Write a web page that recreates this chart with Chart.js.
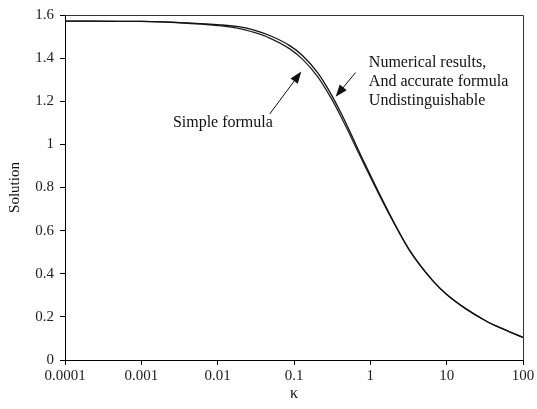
<!DOCTYPE html>
<html>
<head>
<meta charset="utf-8">
<script src="https://cdn.jsdelivr.net/npm/chart.js@4.4.1/dist/chart.umd.min.js"></script>
<style>
  html, body { margin: 0; padding: 0; background: #fff; }
  #wrap { width: 537px; height: 409px; position: relative; }
</style>
</head>
<body>
<div id="wrap"><canvas id="myChart"></canvas></div>
<script>
// values
const kappa     = [0.0001, 0.001, 0.0032, 0.01, 0.0195, 0.03, 0.048, 0.088, 0.131, 0.206, 0.308, 0.416, 0.508, 0.84, 1.69, 3.26, 6.56, 9.84, 17.9, 32.8, 49, 100];
const numerical = [1.572, 1.570, 1.565, 1.555, 1.545, 1.530, 1.505, 1.458, 1.410, 1.330, 1.231, 1.143, 1.079, 0.913, 0.694, 0.510, 0.368, 0.306, 0.237, 0.181, 0.151, 0.105];
const simple    = [1.572, 1.570, 1.564, 1.551, 1.537, 1.519, 1.493, 1.443, 1.393, 1.312, 1.213, 1.126, 1.064, 0.903, 0.689, 0.508, 0.368, 0.306, 0.237, 0.181, 0.151, 0.105];

const xTicks = [0.0001, 0.001, 0.01, 0.1, 1, 10, 100];
const xTickLabels = ['0.0001', '0.001', '0.01', '0.1', '1', '10', '100'];
const yTicks = [0, 0.2, 0.4, 0.6, 0.8, 1, 1.2, 1.4, 1.6];

// annotation anchors, in data units
const simpleNote = { text: 'Simple formula', x: 0.00259, y: 1.102 };
const simpleArrow = { from: [0.0481, 1.141], to: [0.1247, 1.338] };
const numNote = { lines: ['Numerical results,', 'And accurate formula', 'Undistinguishable'], x: 0.956, y: 1.379 };
const numArrow = { from: [0.640, 1.333], to: [0.351, 1.221] };

const serif = "'Liberation Serif', 'Times New Roman', serif";

const data = {
  datasets: [{
    label: 'Numerical results',
    data: kappa.map((k, i) => ({ x: k, y: numerical[i] })),
    borderColor: '#111',
    borderWidth: 1.3,
    pointRadius: 0,
    cubicInterpolationMode: 'monotone',
    fill: false
  }, {
    label: 'Simple formula',
    data: kappa.map((k, i) => ({ x: k, y: simple[i] })),
    borderColor: '#222',
    borderWidth: 1.3,
    pointRadius: 0,
    cubicInterpolationMode: 'monotone',
    fill: false
  }]
};

function arrow(ctx, x1, y1, x2, y2) {
  const a = Math.atan2(y2 - y1, x2 - x1);
  const len = 12, w = 4.5;
  ctx.beginPath();
  ctx.moveTo(x1, y1);
  ctx.lineTo(x2 - Math.cos(a) * len * 0.8, y2 - Math.sin(a) * len * 0.8);
  ctx.stroke();
  ctx.beginPath();
  ctx.moveTo(x2, y2);
  ctx.lineTo(x2 - Math.cos(a) * len - Math.sin(a) * w, y2 - Math.sin(a) * len + Math.cos(a) * w);
  ctx.lineTo(x2 - Math.cos(a) * len + Math.sin(a) * w, y2 - Math.sin(a) * len - Math.cos(a) * w);
  ctx.closePath();
  ctx.fill();
}

const notes = {
  id: 'notes',
  afterDraw(chart) {
    const { ctx, chartArea: ca, scales: { x, y } } = chart;
    ctx.save();
    // frame
    ctx.strokeStyle = '#333';
    ctx.lineWidth = 1;
    ctx.beginPath();
    ctx.moveTo(ca.left, ca.top + 0.5);
    ctx.lineTo(ca.right + 0.5, ca.top + 0.5);
    ctx.lineTo(ca.right + 0.5, ca.bottom);
    ctx.stroke();

    ctx.fillStyle = '#111';
    ctx.font = '16px ' + serif;
    ctx.textBaseline = 'middle';
    ctx.textAlign = 'left';
    ctx.fillText(simpleNote.text, x.getPixelForValue(simpleNote.x), y.getPixelForValue(simpleNote.y));
    const x0 = x.getPixelForValue(numNote.x);
    const y0 = y.getPixelForValue(numNote.y);
    numNote.lines.forEach((t, i) => ctx.fillText(t, x0, y0 + i * 19));

    ctx.strokeStyle = '#111';
    ctx.lineWidth = 1;
    [simpleArrow, numArrow].forEach(a => {
      arrow(ctx,
        x.getPixelForValue(a.from[0]), y.getPixelForValue(a.from[1]),
        x.getPixelForValue(a.to[0]), y.getPixelForValue(a.to[1]));
    });
    ctx.restore();
  }
};

const config = {
  type: 'line',
  data: data,
  options: {
    responsive: true,
    maintainAspectRatio: false,
    animation: false,
    layout: { padding: { top: 14, right: 14, left: 0, bottom: 0 } },
    plugins: { legend: { display: false }, tooltip: { enabled: false } },
    scales: {
      x: {
        type: 'logarithmic',
        min: 0.0001,
        max: 100,
        afterBuildTicks: s => { s.ticks = xTicks.map(v => ({ value: v })); },
        afterFit: s => { s.height = 49; },
        ticks: {
          autoSkip: false,
          maxRotation: 0,
          padding: 2,
          color: '#222',
          font: { family: serif, size: 15 },
          callback: (v, i) => xTickLabels[i]
        },
        grid: { drawOnChartArea: false, drawTicks: true, tickLength: 5, color: '#000' },
        border: { color: '#000', width: 1 },
        title: { display: true, text: 'κ', color: '#111', font: { family: serif, size: 16 }, padding: { top: 0, bottom: 6 } }
      },
      y: {
        min: 0,
        max: 1.6,
        afterBuildTicks: s => { s.ticks = yTicks.map(v => ({ value: v })); },
        afterFit: s => { s.width = 65; },
        ticks: {
          padding: 6,
          color: '#222',
          font: { family: serif, size: 15 },
          callback: v => String(Math.round(v * 10) / 10)
        },
        grid: { drawOnChartArea: false, drawTicks: true, tickLength: 5, color: '#000' },
        border: { color: '#000', width: 1 },
        title: { display: true, text: 'Solution', color: '#111', font: { family: serif, size: 15 }, padding: { top: 6, bottom: 0 } }
      }
    }
  },
  plugins: [notes]
};

const myChart = new Chart(document.getElementById('myChart'), config);
</script>
</body>
</html>
